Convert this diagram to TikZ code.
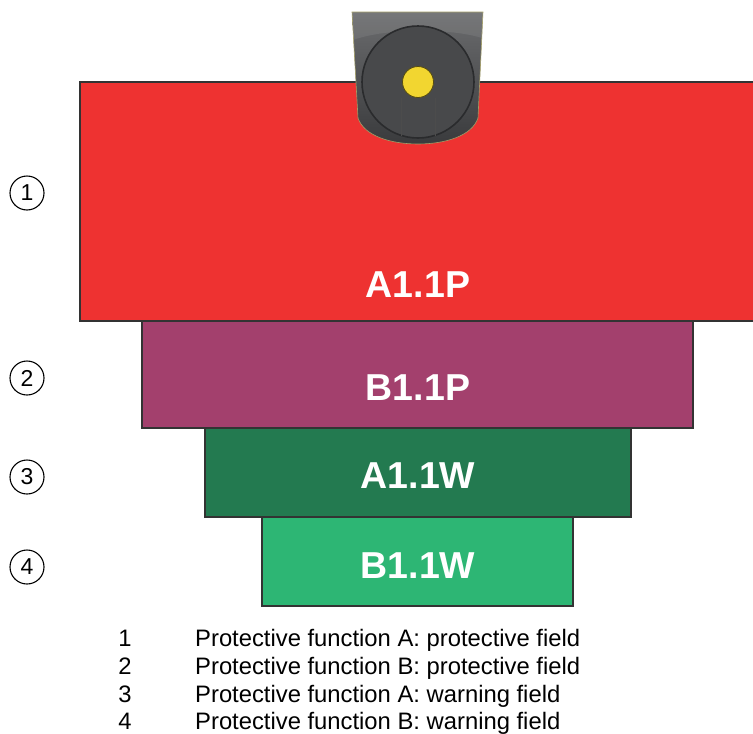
\documentclass[tikz,border=0pt]{standalone}
\usepackage{fontspec}
\setmainfont{Liberation Sans}
\begin{document}
\begin{tikzpicture}[x=1pt,y=-1pt,
  field/.style={draw=black!80,line width=1.3pt},
  fieldlabel/.style={text=white,font=\fontsize{37.5}{40}\selectfont\bfseries,anchor=base,inner sep=0pt},
  marker/.style={circle,draw=black,line width=1.1pt,minimum size=34pt,inner sep=0pt,font=\fontsize{23}{26}\selectfont},
  legendnum/.style={anchor=base,inner sep=0pt,font=\fontsize{23.8}{26}\selectfont},
  legendtext/.style={anchor=base west,inner sep=0pt,font=\fontsize{23.8}{26}\selectfont}]
\definecolor{fieldA}{HTML}{EE3231}
\definecolor{fieldB}{HTML}{A3406D}
\definecolor{warnA}{HTML}{237A50}
\definecolor{warnB}{HTML}{2DB674}
\definecolor{bodytop}{HTML}{6B6C6E}
\definecolor{bodybot}{HTML}{3A3B3D}
\definecolor{disc}{HTML}{48494B}
\definecolor{ring}{HTML}{2A2B2D}
\definecolor{led}{HTML}{F2D630}
\useasboundingbox (0,0) rectangle (753,734);
\clip (0,0) rectangle (753,734);

% protective and warning fields, widest first
\draw[field,fill=fieldA] (80,82) rectangle (770,321);
\draw[field,fill=fieldB] (142,321) rectangle (693,428);
\draw[field,fill=warnA] (205,428) rectangle (631,517);
\draw[field,fill=warnB] (262,517) rectangle (573,606);

\node[fieldlabel] (a1p) at (418,297) {A1.1P};
\node[fieldlabel] (b1p) at (418,400) {B1.1P};
\node[fieldlabel] (a1w) at (418,488) {A1.1W};
\node[fieldlabel] (b1w) at (418,578) {B1.1W};

% scanner head
\path[top color=bodytop,bottom color=bodybot,draw=black!40!olive!60,line width=0.6pt]
  (352,12) -- (483,12) -- (478,118)
  .. controls (472,136) and (445,144) .. (418,144)
  .. controls (391,144) and (364,136) .. (358,118) -- cycle;
\fill[white,opacity=0.08] (352,12) -- (483,12) -- (482,38)
  .. controls (450,28) and (386,28) .. (353,40) -- cycle;
\fill[disc] (418,82) circle[radius=56];
\draw[ring,line width=1.6pt] (418,82) circle[radius=56];
\draw[black!70,line width=0.6pt] (401,98) -- (401,136);
\draw[black!70,line width=0.6pt] (435,98) -- (435,136);
\fill[led] (418,82) circle[radius=15.5];
\draw[black!40!led!60!black,line width=0.8pt] (418,82) circle[radius=15.5];

% field markers
\node[marker] (m1) at (27,193) {1};
\node[marker] (m2) at (27,378) {2};
\node[marker] (m3) at (27,477) {3};
\node[marker] (m4) at (27,567) {4};

% legend
\node[legendnum] (n1) at (125,646) {1};
\node[legendtext] (t1) at (195,646) {Protective function A: protective field};
\node[legendnum] (n2) at (125,674) {2};
\node[legendtext] (t2) at (195,674) {Protective function B: protective field};
\node[legendnum] (n3) at (125,702) {3};
\node[legendtext] (t3) at (195,702) {Protective function A: warning field};
\node[legendnum] (n4) at (125,729) {4};
\node[legendtext] (t4) at (195,729) {Protective function B: warning field};
\end{tikzpicture}
\end{document}
